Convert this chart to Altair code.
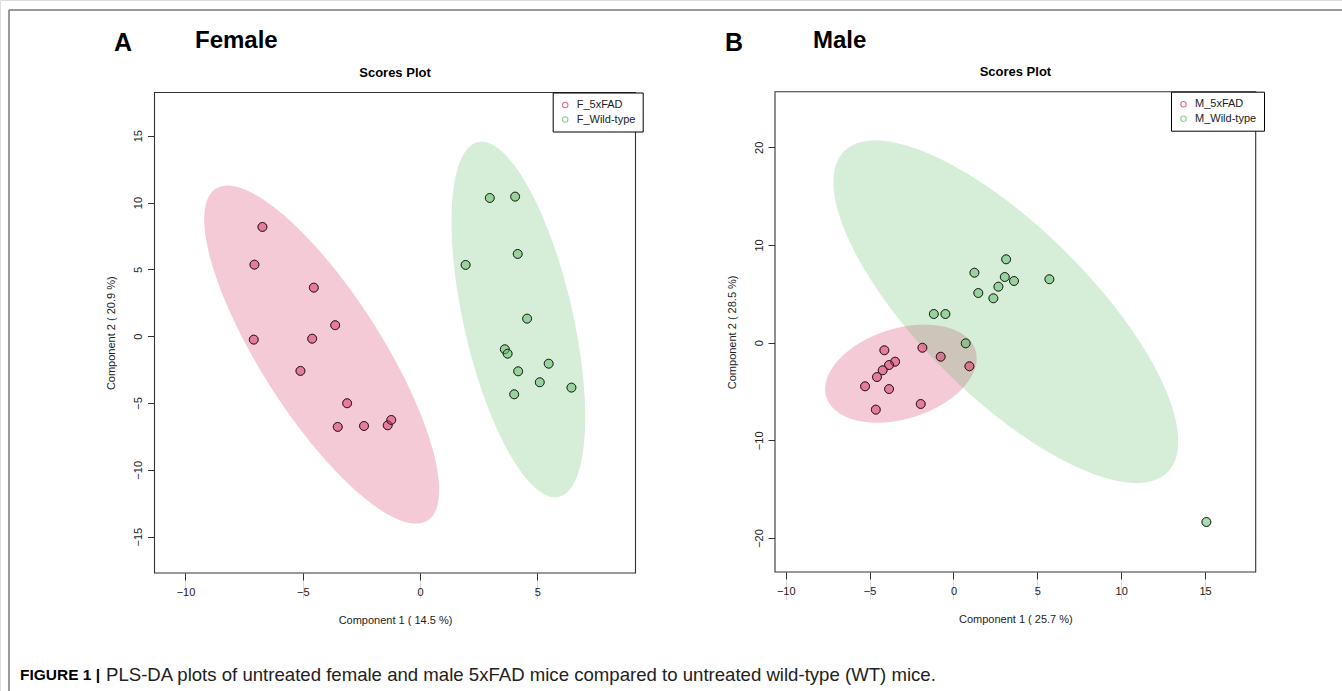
import altair as alt
import numpy as np
import pandas as pd

FONT = "Liberation Sans"

# ---------------- data ----------------
# Panel A: Female
f_5xfad_x = [-6.72, -7.06, -4.53, -3.62, -7.09, -4.60, -5.10, -3.11, -3.51, -2.39, -1.38, -1.23]
f_5xfad_y = [8.17, 5.35, 3.63, 0.82, -0.26, -0.19, -2.60, -5.02, -6.79, -6.72, -6.67, -6.27]
f_wt_x = [2.97, 4.05, 4.16, 1.94, 4.56, 3.61, 3.73, 5.48, 4.18, 5.10, 6.45, 4.01]
f_wt_y = [10.34, 10.44, 6.15, 5.33, 1.31, -0.98, -1.31, -2.06, -2.63, -3.45, -3.85, -4.35]

# Panel B: Male
m_5xfad_x = [-4.12, -1.85, -3.48, -3.84, -4.22, -4.56, -5.27, -3.84, -4.63, -1.95, -0.76, 0.95]
m_5xfad_y = [-0.78, -0.52, -1.95, -2.29, -2.83, -3.52, -4.47, -4.75, -6.86, -6.28, -1.44, -2.42]
m_wt_x = [3.14, 1.25, 3.06, 3.61, 5.72, 2.68, 1.48, 2.38, -1.17, -0.48, 0.73, 15.08]
m_wt_y = [8.53, 7.16, 6.72, 6.31, 6.49, 5.73, 5.08, 4.54, 2.93, 2.93, -0.07, -18.36]

f_groups = ["F_5xFAD", "F_Wild-type"]
m_groups = ["M_5xFAD", "M_Wild-type"]

f_x_ticks = [-10, -5, 0, 5]
f_y_ticks = [-15, -10, -5, 0, 5, 10, 15]
m_x_ticks = [-10, -5, 0, 5, 10, 15]
m_y_ticks = [-20, -10, 0, 10, 20]

PINK = "#D72D5F"
GREEN = "#5BB763"
CHI2_95_2DF = 5.991464547107979


def ellipse_band(xs, ys, n=400):
    """95% confidence ellipse of the group (as in MetaboAnalyst) as an x / lo / hi band."""
    pts = np.column_stack([xs, ys])
    c = pts.mean(axis=0)
    S = np.cov(pts.T)
    A = np.linalg.inv(S * CHI2_95_2DF)
    w = np.sqrt(CHI2_95_2DF * S[0, 0])
    th = np.linspace(0, np.pi, n)
    dx = -w * np.cos(th)
    a, b, d = A[0, 0], A[0, 1], A[1, 1]
    disc = np.clip(b * b * dx * dx - d * (a * dx * dx - 1), 0, None)
    lo = c[1] + (-b * dx - np.sqrt(disc)) / d
    hi = c[1] + (-b * dx + np.sqrt(disc)) / d
    return pd.DataFrame({"x": c[0] + dx, "lo": lo, "hi": hi})


def panel(gx1, gy1, gx2, gy2, groups, xdom, ydom, xr, yr, xticks, yticks,
          xtitle, ytitle, leg_x, leg_y, view_h=691):
    pts = pd.DataFrame({
        "x": list(gx1) + list(gx2),
        "y": list(gy1) + list(gy2),
        "group": [groups[0]] * len(gx1) + [groups[1]] * len(gx2),
    })
    xs = alt.Scale(domain=xdom, range=xr, nice=False, zero=False)
    ys = alt.Scale(domain=ydom, range=yr, nice=False, zero=False)

    frame_df = pd.DataFrame({"x0": [xdom[0]], "x1": [xdom[1]], "y0": [ydom[0]], "y1": [ydom[1]]})
    frame = alt.Chart(frame_df).mark_rect(fill="white", stroke="#333333", strokeWidth=1.1).encode(
        x=alt.X("x0:Q", scale=xs, axis=alt.Axis(
            orient="bottom", offset=-(view_h - yr[0]),
            values=xticks, format="d", tickSize=7, tickColor="#333333", tickWidth=1,
            labelFont=FONT, labelFontSize=11, labelColor="#222222", labelPadding=6,
            labelFlush=False, labelOverlap=False,
            domain=False, grid=True, gridColor="#DCDCDC", gridWidth=1,
            title=xtitle, titleFont=FONT, titleFontSize=11, titleFontWeight="normal",
            titleColor="#222222", titleX=(xr[0] + xr[1]) / 2, titleY=47,
            titleAlign="center", titleBaseline="middle", titleAnchor="middle")),
        x2="x1:Q",
        y=alt.Y("y0:Q", scale=ys, axis=alt.Axis(
            orient="left", offset=-xr[0],
            values=yticks, format="d", tickSize=7, tickColor="#333333", tickWidth=1,
            labelFont=FONT, labelFontSize=11, labelColor="#222222", labelPadding=6,
            labelAngle=-90, labelAlign="center", labelBaseline="alphabetic",
            labelFlush=False, labelOverlap=False,
            domain=False, grid=True, gridColor="#DCDCDC", gridWidth=1,
            title=ytitle, titleFont=FONT, titleFontSize=11, titleFontWeight="normal",
            titleColor="#222222", titleX=-43, titleY=(yr[0] + yr[1]) / 2,
            titleAngle=270, titleAlign="center", titleBaseline="middle")),
        y2="y1:Q",
    )

    e1 = ellipse_band(gx1, gy1)
    e2 = ellipse_band(gx2, gy2)
    ell1 = alt.Chart(e1).mark_area(color=PINK, opacity=0.25).encode(
        x=alt.X("x:Q", scale=xs), y=alt.Y("lo:Q", scale=ys), y2="hi:Q")
    ell2 = alt.Chart(e2).mark_area(color=GREEN, opacity=0.25).encode(
        x=alt.X("x:Q", scale=xs), y=alt.Y("lo:Q", scale=ys), y2="hi:Q")

    # open rings (hidden under the dots) that carry the R-style legend
    rings = alt.Chart(pts).mark_point(filled=False, size=80, strokeWidth=1, shape="circle").encode(
        x=alt.X("x:Q", scale=xs), y=alt.Y("y:Q", scale=ys),
        stroke=alt.Stroke("group:N", scale=alt.Scale(domain=groups, range=[PINK, GREEN]),
                          legend=alt.Legend(
                              title=None, orient="none", legendX=leg_x, legendY=leg_y,
                              strokeColor="black", fillColor="white", padding=7,
                              symbolType="circle", symbolSize=30, symbolStrokeWidth=1.1,
                              symbolFillColor="transparent",
                              labelFont=FONT, labelFontSize=11, labelColor="#222222",
                              labelOffset=6, rowPadding=2.5)),
    )
    dots = []
    for g, col in zip(groups, [PINK, GREEN]):
        dots.append(
            alt.Chart(pts).transform_filter(alt.datum.group == g).mark_point(
                filled=True, size=80, shape="circle", fill=col, stroke="#222222",
                strokeWidth=1, fillOpacity=0.5, strokeOpacity=1).encode(
                x=alt.X("x:Q", scale=xs), y=alt.Y("y:Q", scale=ys))
        )
    return alt.layer(frame, ell1, ell2, rings, *dots)


panel_a = panel(f_5xfad_x, f_5xfad_y, f_wt_x, f_wt_y, f_groups,
                xdom=[-11.32, 9.18], ydom=[-17.72, 18.23], xr=[154.5, 635.5], yr=[573, 92.5],
                xticks=f_x_ticks, yticks=f_y_ticks,
                xtitle="Component 1 ( 14.5 %)", ytitle="Component 2 ( 20.9 %)",
                leg_x=552.7, leg_y=92.5)
panel_b = panel(m_5xfad_x, m_5xfad_y, m_wt_x, m_wt_y, m_groups,
                xdom=[-10.64, 18.02], ydom=[-23.48, 25.69], xr=[775, 1255.7], yr=[572, 91.7],
                xticks=m_x_ticks, yticks=m_y_ticks,
                xtitle="Component 1 ( 25.7 %)", ytitle="Component 2 ( 28.5 %)",
                leg_x=1171, leg_y=91.7)

one = pd.DataFrame({"k": [0]})


def label(text, x, y, size, weight="bold", align="left", color="black"):
    return alt.Chart(one).mark_text(text=text, font=FONT, fontSize=size, fontWeight=weight,
                                    align=align, baseline="middle", color=color).encode(
        x=alt.value(x), y=alt.value(y))


texts = [
    label("A", 114, 43, 25),
    label("Female", 195, 41, 24),
    label("B", 725, 43, 25),
    label("Male", 813, 41, 24),
    label("Scores Plot", 395, 73, 13, align="center"),
    label("Scores Plot", 1015.4, 72, 13, align="center"),
    label("FIGURE 1 |", 20, 675, 15.5),
    label("PLS-DA plots of untreated female and male 5xFAD mice compared to untreated wild-type (WT) mice.",
          106, 675, 18.6, weight="normal", color="#222222"),
]

frame_top = alt.Chart(one).mark_rule(color="#777777", strokeWidth=1.5).encode(
    x=alt.value(9), x2=alt.value(1342), y=alt.value(10))
frame_left = alt.Chart(one).mark_rule(color="#777777", strokeWidth=1.5).encode(
    x=alt.value(9), y=alt.value(10), y2=alt.value(691))

chart = alt.layer(frame_top, frame_left, panel_a, panel_b, *texts).resolve_scale(
    x="independent", y="independent", stroke="independent"
).resolve_axis(x="independent", y="independent").resolve_legend(
    stroke="independent"
).properties(
    width=1342, height=691, padding=0,
    autosize=alt.AutoSizeParams(type="none"),
).configure_view(stroke=None).configure(background="white")

chart.save("out.html", embed_options={"renderer": "svg", "actions": False})
